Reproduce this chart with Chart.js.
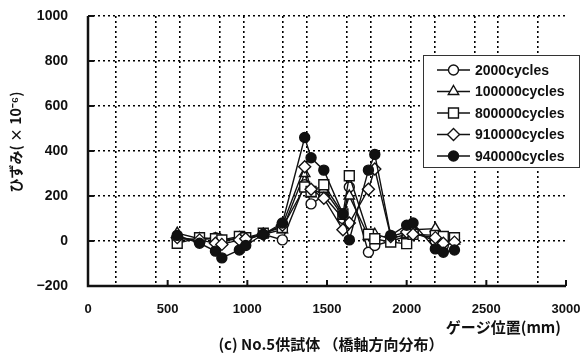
<!DOCTYPE html>
<html>
<head>
<meta charset="utf-8">
<script src="https://cdn.jsdelivr.net/npm/chart.js@4"></script>
<style>
  body { margin: 0; background: #fff; }
  canvas { display: block; }
</style>
</head>
<body>
<canvas id="grafico" width="581" height="354"></canvas>
<script>
// ゲージ位置 (mm)
const positions = [560, 700, 800, 840, 950, 990, 1100, 1220, 1360, 1400, 1480, 1600, 1640, 1760, 1800, 1900, 2000, 2040, 2180, 2230, 2300];

// ひずみ (×10^-6)
const cycles2000   = [10, 5, 15, 0, 10, 5, 30, 5, 250, 165, 200, 100, 240, -50, -20, 0, 20, 40, 0, -20, 10];
const cycles100000 = [35, 10, 10, 0, 15, 10, 30, 50, 300, 210, 230, 110, 200, 20, 30, 10, 30, 50, 55, 10, 0];
const cycles800000 = [-10, 15, 10, 5, 20, 15, 35, 60, 240, 220, 250, 120, 290, 30, 10, -5, -12, 30, 25, 20, 15];
const cycles910000 = [15, 5, -10, -15, 5, 10, 30, 70, 330, 230, 190, 50, 80, 230, 320, 20, 40, 30, 15, -10, -5];
const cycles940000 = [25, -10, -45, -75, -40, -20, 30, 80, 460, 370, 315, 120, 5, 315, 385, 25, 70, 80, -35, -50, -40];

const seriesLabels = ["2000cycles", "100000cycles", "800000cycles", "910000cycles", "940000cycles"];

// 点線グリッドの位置 (x)
const gridX = [175, 425, 575, 825, 975, 1225, 1375, 1625, 1775, 2025, 2175, 2425, 2575, 2825];
const xTicks = [0, 500, 1000, 1500, 2000, 2500, 3000];
const yTicks = [-200, 0, 200, 400, 600, 800, 1000];

const xTitle = "ゲージ位置(mm)";
const yTitle = "ひずみ( × 10⁻⁶)";
const caption = "(c) No.5供試体 （橋軸方向分布）";

const numFont = { family: "'Liberation Sans', Arial, sans-serif", size: 14, weight: "bold" };
const xNumFont = { family: "'Liberation Sans', Arial, sans-serif", size: 13, weight: "bold" };

function pts(values) {
  return positions.map((x, i) => ({ x, y: values[i] }));
}

function serie(label, values, style, fill, radius, order) {
  return {
    label,
    data: pts(values),
    showLine: true,
    borderColor: "#111",
    borderWidth: 1.4,
    pointStyle: style,
    pointRadius: radius,
    pointBackgroundColor: fill,
    pointBorderColor: "#111",
    pointBorderWidth: 1.4,
    order,
  };
}

const datasets = [
  serie(seriesLabels[0], cycles2000, "circle", "#fff", 5, 4),
  serie(seriesLabels[1], cycles100000, "triangle", "#fff", 6, 3),
  serie(seriesLabels[2], cycles800000, "rect", "#fff", 7, 2),
  serie(seriesLabels[3], cycles910000, "rectRot", "#fff", 6, 1),
  serie(seriesLabels[4], cycles940000, "circle", "#111", 5, 0),
];

function noPad(s) {
  s.paddingLeft = 0;
  s.paddingRight = 0;
  s.paddingTop = 0;
  s.paddingBottom = 0;
}

// 軸線・凡例・目盛・文字
const extras = {
  id: "extras",
  beforeDatasetsDraw(chart) {
    const ctx = chart.ctx;
    const a = chart.chartArea;
    ctx.save();
    ctx.strokeStyle = "#111";
    ctx.lineWidth = 2.5;
    ctx.beginPath();
    ctx.moveTo(a.left, a.top);
    ctx.lineTo(a.left, a.bottom);
    ctx.lineTo(a.right, a.bottom);
    ctx.stroke();
    ctx.restore();
  },
  afterDraw(chart) {
    const ctx = chart.ctx;
    const xs = chart.scales.x;
    const ys = chart.scales.y;
    ctx.save();

    // 内向きの目盛
    ctx.strokeStyle = "#111";
    ctx.lineWidth = 2;
    ctx.beginPath();
    xTicks.forEach((v) => {
      const px = xs.getPixelForValue(v);
      ctx.moveTo(px, ys.bottom);
      ctx.lineTo(px, ys.bottom - 6);
    });
    yTicks.forEach((v) => {
      const py = ys.getPixelForValue(v);
      ctx.moveTo(xs.left, py);
      ctx.lineTo(xs.left + 6, py);
    });
    ctx.stroke();

    // 凡例
    const bx = 423, by = 55, bw = 157, bh = 113;
    ctx.fillStyle = "#fff";
    ctx.fillRect(bx, by, bw, bh);
    ctx.strokeStyle = "#333";
    ctx.lineWidth = 1;
    ctx.strokeRect(bx + 0.5, by + 0.5, bw - 1, bh - 1);
    chart.data.datasets.forEach((ds, i) => {
      const cy = 70 + i * 21.5;
      ctx.strokeStyle = "#111";
      ctx.lineWidth = 1.4;
      ctx.beginPath();
      ctx.moveTo(437, cy);
      ctx.lineTo(470, cy);
      ctx.stroke();
      ctx.fillStyle = ds.pointBackgroundColor;
      ctx.strokeStyle = ds.pointBorderColor;
      ctx.lineWidth = ds.pointBorderWidth;
      Chart.helpers.drawPoint(ctx, { pointStyle: ds.pointStyle, radius: ds.pointRadius, borderWidth: ds.pointBorderWidth }, 453.5, cy);
      ctx.fillStyle = "#111";
      ctx.font = "bold 14px 'Liberation Sans', Arial, sans-serif";
      ctx.textAlign = "left";
      ctx.textBaseline = "middle";
      ctx.fillText(ds.label, 475, cy + 1);
    });

    // 軸タイトル・キャプション
    ctx.fillStyle = "#111";
    ctx.textBaseline = "middle";
    ctx.font = "bold 15px 'Noto Sans CJK JP', sans-serif";
    ctx.textAlign = "right";
    ctx.fillText(xTitle, 561, 327);
    ctx.textAlign = "center";
    ctx.fillText(caption, 331, 344);
    ctx.font = "bold 14px 'Noto Sans CJK JP', sans-serif";
    ctx.translate(16, 142);
    ctx.rotate(-Math.PI / 2);
    ctx.fillText(yTitle, 0, 0);
    ctx.restore();
  },
};

new Chart(document.getElementById("grafico").getContext("2d"), {
  type: "scatter",
  data: { datasets },
  options: {
    responsive: false,
    animation: false,
    layout: { padding: { top: 16, right: 15, left: 0, bottom: 0 } },
    plugins: { legend: { display: false }, tooltip: { enabled: false } },
    scales: {
      x: {
        type: "linear",
        min: 0,
        max: 3000,
        afterBuildTicks: (s) => { s.ticks = xTicks.map((v) => ({ value: v })); },
        afterFit: (s) => { s.height = 68; noPad(s); },
        ticks: { color: "#111", font: xNumFont, padding: 16, maxRotation: 0, callback: (v) => String(v) },
        grid: { display: false, drawTicks: false },
        border: { display: false },
      },
      xg: {
        type: "linear",
        position: "top",
        min: 0,
        max: 3000,
        afterBuildTicks: (s) => { s.ticks = gridX.map((v) => ({ value: v })); },
        afterFit: (s) => { s.height = 0; noPad(s); },
        ticks: { display: false },
        grid: { color: "#000", lineWidth: 1.6, drawTicks: false },
        border: { display: false, dash: [2, 3] },
      },
      y: {
        min: -200,
        max: 1000,
        afterBuildTicks: (s) => { s.ticks = yTicks.map((v) => ({ value: v })); },
        afterFit: (s) => { s.width = 88; noPad(s); },
        ticks: { color: "#111", font: numFont, padding: 20, callback: (v) => String(v).replace("-", "−") },
        grid: { color: "#000", lineWidth: 1.6, drawTicks: false },
        border: { display: false, dash: [2, 3] },
      },
    },
  },
  plugins: [extras],
});
</script>
</body>
</html>
